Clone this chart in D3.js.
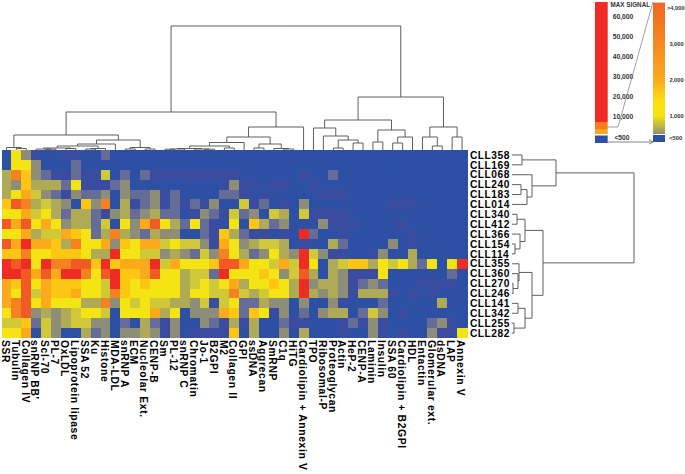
<!DOCTYPE html>
<html><head><meta charset="utf-8">
<script src="https://cdn.jsdelivr.net/npm/d3@7"></script>
<style>html,body{margin:0;padding:0;background:#fff}svg{display:block}text{font-family:"Liberation Sans",Arial,sans-serif;font-weight:bold;fill:#000}</style>
</head><body><div id="c"></div>
<script>
const columns=["SSR","Tubulin","Collagen IV","snRNP BB'","Scl-70","PL-7","OxLDL","Lipoprotein lipase","SSA 52","Ku","Histone","MDA-LDL","snRNP A","ECM","Nucleolar Ext.","CENP-B","Sm","PL-12","snRNP C","Chromatin","Jo-1","B2GPI","M2","Collagen II","GPI","ssDNA","Aggrecan","SmRNP","C1q","HiTG","Cardiolipin + Annexin V","TPO","Ribosomal-P","Proteoglycan","Actin","HeP-2","CENP-A","Laminin","Insulin","SSA 60","Cardiolipin + B2GPI","HDL","Entactin","Glomerular ext.","dsDNA","LAP","Annexin V"];
const samples=["CLL358","CLL169","CLL068","CLL240","CLL183","CLL014","CLL340","CLL412","CLL366","CLL154","CLL114","CLL355","CLL360","CLL270","CLL246","CLL141","CLL342","CLL255","CLL282"];
// signal class per antigen (0 = <500 ... 11 = max signal)
const cll358=[0,6,3,1,0,0,1,1,0,0,2,0,0,0,0,0,0,0,0,0,0,0,0,0, 0,0,0,0,0,0,0,0,0,0,0,0,0,0,0,0,0,0,0,0,0,0,0];
const cll169=[0,6,6,3,0,0,0,2,0,0,0,0,0,0,0,0,0,0,0,0,0,0,0,0, 0,0,0,0,0,0,0,0,0,0,0,0,0,0,0,0,0,0,0,0,0,0,0];
const cll068=[4,9,7,3,2,1,1,2,1,1,5,0,2,0,2,1,1,1,1,1,1,1,1,1, 0,0,0,0,0,0,1,0,0,2,0,0,0,0,0,0,0,0,0,0,0,0,0];
const cll240=[4,3,7,4,4,4,2,6,1,1,1,2,3,0,0,0,0,0,0,0,0,0,1,3, 1,1,0,1,1,0,0,1,0,0,0,0,0,0,0,0,0,0,0,0,0,0,0];
const cll183=[4,6,8,5,3,2,1,3,2,2,3,0,3,2,2,3,1,2,0,0,0,0,2,2, 1,0,1,0,0,0,0,0,1,1,1,0,0,0,0,0,0,0,0,0,0,0,0];
const cll014=[7,10,9,4,5,4,3,0,7,3,9,0,4,1,2,3,1,2,1,2,1,3,0,0, 5,1,2,0,1,0,3,0,0,0,0,0,0,0,0,1,1,1,0,0,0,0,0];
const cll340=[6,6,8,5,6,4,2,4,4,2,1,3,4,2,3,4,2,2,0,1,3,2,1,5, 2,3,0,5,4,0,5,1,1,1,1,0,0,0,0,0,0,0,0,0,0,0,0];
const cll412=[10,8,10,6,8,6,3,4,4,2,5,0,6,3,8,10,6,4,2,6,2,1,0,6, 0,7,4,2,3,0,0,0,3,1,1,1,0,0,0,0,1,0,0,0,0,0,0];
const cll366=[6,6,8,4,5,5,8,7,6,2,4,9,4,3,2,4,3,3,0,0,2,1,7,4, 2,1,1,0,1,0,11,2,0,0,1,0,0,0,0,0,0,1,0,0,0,0,0];
const cll154=[10,8,11,8,8,7,4,9,6,6,8,3,7,6,8,8,5,6,5,5,3,1,8,6, 3,4,5,5,4,0,1,0,0,4,2,0,0,0,0,3,0,1,0,0,0,0,0];
const cll114=[7,7,9,6,6,7,7,7,6,4,4,11,6,6,5,5,3,4,3,2,5,3,9,6, 4,2,3,6,4,3,11,5,3,1,1,0,0,1,3,0,0,4,0,0,0,0,0];
const cll355=[11,10,11,6,11,9,9,10,10,7,11,7,8,8,8,11,5,8,6,6,6,7,10,10, 8,6,6,5,8,5,11,6,0,4,5,7,7,4,6,5,6,4,2,6,0,6,11];
const cll360=[11,11,10,8,10,8,11,11,9,6,10,11,7,7,8,10,6,6,4,5,5,2,11,6, 6,6,7,6,3,5,10,4,0,4,3,1,1,1,6,0,0,0,0,0,0,2,0];
const cll270=[8,7,10,6,8,7,7,7,6,6,5,11,7,6,7,6,6,6,4,5,6,5,6,8, 4,6,6,7,6,4,11,3,4,4,3,1,2,3,2,0,0,0,1,1,1,1,0];
const cll246=[8,6,10,5,8,7,7,8,6,6,5,9,7,6,6,6,6,6,4,6,6,5,5,9, 5,4,5,6,6,4,11,4,3,4,3,1,4,4,4,1,0,1,0,1,0,0,0];
const cll141=[8,9,10,6,8,6,6,6,4,4,9,3,6,5,6,5,5,4,4,3,5,1,5,6, 2,2,4,3,3,0,3,0,0,3,1,0,0,0,2,0,0,0,0,0,4,0,0];
const cll342=[6,9,10,3,4,3,4,5,6,6,5,0,6,6,6,8,4,6,0,3,3,3,8,7, 2,7,6,1,3,0,2,0,3,4,4,0,2,5,3,0,1,0,0,0,0,0,0];
const cll255=[5,5,7,2,5,3,4,5,5,3,3,0,2,0,4,2,1,3,0,0,3,2,1,4, 1,4,0,0,2,1,1,0,0,0,1,2,1,3,1,0,0,0,0,2,3,1,0];
const cll282=[6,6,8,0,5,3,0,0,4,2,3,0,3,3,4,3,1,3,0,1,1,1,1,7, 0,4,0,0,3,0,4,0,0,0,1,0,0,3,1,0,1,0,0,3,1,1,6];
const matrix=[cll358,cll169,cll068,cll240,cll183,cll014,cll340,cll412,cll366,cll154,cll114,cll355,cll360,cll270,cll246,cll141,cll342,cll255,cll282];
const classColors=["#2e50a4","#3a4ca0","#666c98","#8d8d78","#aeaa55","#cfc93a","#f4e413","#fdc613","#fbaa1c","#f58220","#f15a25","#ee2b24"];

// dendrograms: [merge height, left, right]; a bare number is a leaf index
const colTree=[124,
 [38,
  [15,[2.5,0,[1.5,1,2]],
      [10,[6,[4,[2,[1,3,[.8,4,5]],[1.5,6,7]],[1.5,[1,8,9],10]],11],
          [2.5,[1,12,13],[1,14,15]]]],
  [23,[13,[7.5,[4,[1.5,[1,[.8,16,17],18],[1,19,[.8,20,21]]],[2,22,23]],24],
          [6,[2,25,26],[1.5,27,[1,28,29]]]],
      30]],
 [53,
  [30,[22,31,[14,32,[10,[2,33,34],[7,35,36]]]],
      [20,[8,37,38],[13,[7,39,40],41]]],
  [23,[13,42,[4,43,44]],[13,45,46]]]];
const rowTree=[122,
 [44,[10,0,1],[20,2,[15,[9,3,4],5]]],
 [31,[13,[5,6,7],[8,8,[3,9,10]]],
     [20,[7,11,[6,12,[1,13,14]]],
         [13,[6,15,16],[2,17,18]]]]];

const legendLeftTicks=[10000,20000,30000,40000,50000,60000];
const legendRightTicks=[1000,2000,3000];
const legendLeftBands=[[1500,4000,"#f9a81c"],[4000,7500,"#f47b20"],[7500,67500,"#ee2b24"]];
const legendRightStops=[[500,"#8d8d78"],[650,"#aeaa55"],[1000,"#f4e413"],[1400,"#fde00f"],[2000,"#fbaa1c"],[3000,"#f68a20"],[4150,"#f26522"]];

const W=685,H=474;
const svg=d3.select("#c").append("svg").attr("width",W).attr("height",H);
const x=d3.scaleBand().domain(d3.range(columns.length)).range([1.5,467]);
const y=d3.scaleBand().domain(d3.range(samples.length)).range([150,338]);
const color=d3.scaleOrdinal().domain(d3.range(classColors.length)).range(classColors);

// heatmap
svg.append("g").attr("shape-rendering","crispEdges").selectAll("g").data(matrix).join("g")
 .attr("transform",(d,i)=>`translate(0,${y(i)})`)
 .selectAll("rect").data(d=>d).join("rect")
 .attr("x",(d,i)=>x(i)).attr("width",x.bandwidth()+.5).attr("height",y.bandwidth()+.5)
 .attr("fill",d=>color(d));

// column labels
svg.append("g").selectAll("text").data(columns).join("text")
 .attr("transform",(d,i)=>`translate(${x(i)+.2},340) rotate(90)`)
 .attr("font-size",10.3).attr("letter-spacing",.65).text(d=>d);
// row labels
svg.append("g").selectAll("text").data(samples).join("text")
 .attr("x",470).attr("y",(d,i)=>y(i)+y.bandwidth()/2+3.7)
 .attr("font-size",10.2).attr("letter-spacing",.5).text(d=>d);

// dendrograms
function layout(node,leafPos){
 if(typeof node==="number")return {pos:leafPos(node),h:0,kids:[]};
 const a=layout(node[1],leafPos),b=layout(node[2],leafPos);
 return {pos:(a.pos+b.pos)/2,h:node[0],kids:[a,b]};
}
function segs(n,out){n.kids.forEach(k=>{out.push({p0:n.pos,p1:k.pos,h0:n.h,h1:k.h});segs(k,out);});return out;}
const colH=d3.scaleLinear().domain([0,124]).range([150,26]);
const rowH=d3.scaleLinear().domain([0,122]).range([512,634]);
const colRoot=layout(colTree,i=>x(i)+x.bandwidth()/2);
const rowRoot=layout(rowTree,i=>y(i)+y.bandwidth()/2);
svg.append("g").attr("fill","none").attr("stroke","#4d4d4d").attr("stroke-width",.9)
 .selectAll("path").data(segs(colRoot,[])).join("path")
 .attr("d",s=>`M${s.p0},${colH(s.h0)}H${s.p1}V${colH(s.h1)}`);
svg.append("g").attr("fill","none").attr("stroke","#4d4d4d").attr("stroke-width",.9)
 .selectAll("path").data(segs(rowRoot,[])).join("path")
 .attr("d",s=>`M${rowH(s.h0)},${s.p0}V${s.p1}H${rowH(s.h1)}`);

// legend
const lY=d3.scaleLinear().domain([10000,60000]).range([117,17]);
const rY=d3.scaleLinear().domain([1000,4000]).range([116,8]);
const lg=svg.append("g");
const defs=svg.append("defs");
const grad=defs.append("linearGradient").attr("id","sig").attr("x1",0).attr("x2",0).attr("y1",1).attr("y2",0);
const [r0,r1]=[500,4150];
grad.selectAll("stop").data(legendRightStops).join("stop")
 .attr("offset",d=>(d[0]-r0)/(r1-r0)).attr("stop-color",d=>d[1]);
lg.selectAll(".lb").data(legendLeftBands).join("rect")
 .attr("x",595).attr("width",12.7)
 .attr("y",d=>lY(d[1])).attr("height",d=>lY(d[0])-lY(d[1])).attr("fill",d=>d[2]);
lg.append("rect").attr("x",595).attr("width",12.7).attr("y",lY(500)-.5).attr("height",7.5).attr("fill",classColors[0]);
lg.append("rect").attr("x",653).attr("width",12).attr("y",rY(4150)).attr("height",rY(500)-rY(4150)).attr("fill","url(#sig)");
lg.append("rect").attr("x",653).attr("width",12).attr("y",135).attr("height",7).attr("fill",classColors[0]);
const tick=(g,v,px,py,anchor,fs)=>g.append("text").attr("x",px).attr("y",py).attr("text-anchor",anchor).attr("font-size",fs).style("fill","#333").text(v);
legendLeftTicks.forEach(v=>tick(lg,d3.format(",")(v),623,lY(v)+2.3,"middle",6.7));
tick(lg,"<500",622,139.5,"middle",6.7);
tick(lg,"MAX SIGNAL",610.5,7,"start",6.3);
legendRightTicks.forEach(v=>tick(lg,d3.format(",")(v),676.5,rY(v)+2.1,"middle",5.7));
tick(lg,">4,000",667,rY(4000)+2.1,"start",5.7);
tick(lg,"<500",669.3,140,"start",5.7);
lg.append("path").attr("fill","none").attr("stroke","#777").attr("stroke-width",.7)
 .attr("d",`M607.7,127H618L653,2`);
lg.append("path").attr("fill","none").attr("stroke","#777").attr("stroke-width",.9)
 .attr("d",`M607.7,142H653M649,139.5L653,142L649,144`);
</script>
</body></html>
